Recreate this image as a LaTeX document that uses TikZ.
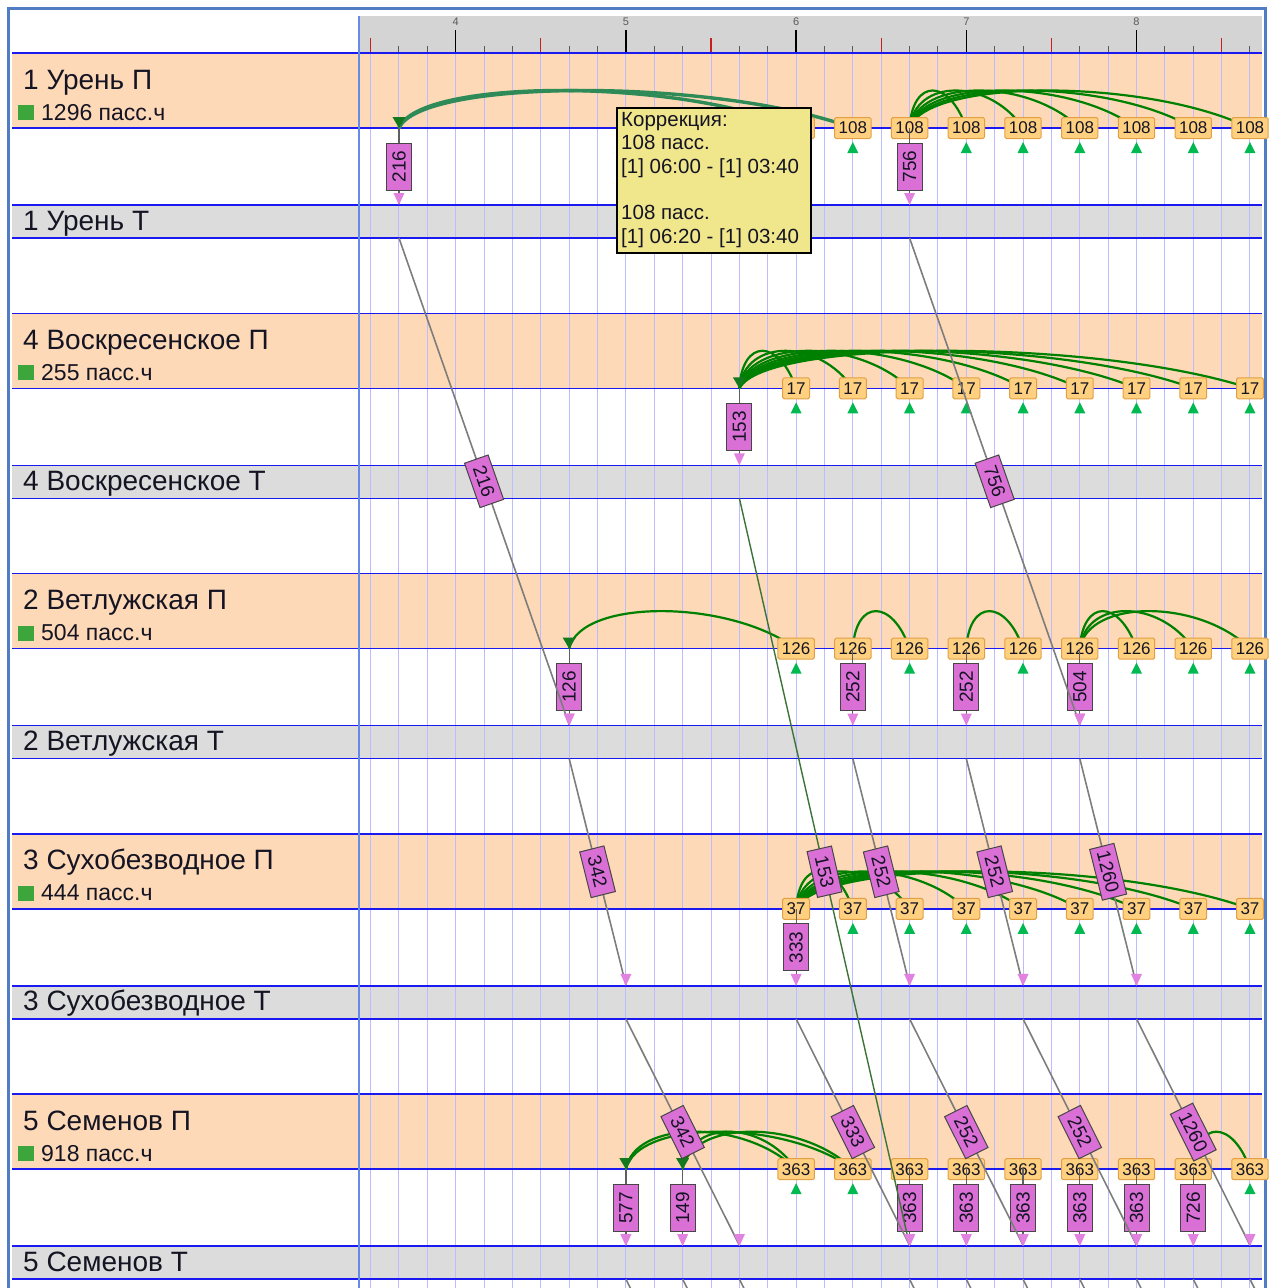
\documentclass[tikz,border=0pt]{standalone}
\usepackage{fontspec}
\setmainfont{Liberation Sans}
\definecolor{peach}{RGB}{253,217,183}
\definecolor{bandgray}{RGB}{220,220,220}
\definecolor{rulergray}{RGB}{212,212,212}
\definecolor{gridc}{RGB}{188,188,255}
\definecolor{rowblue}{RGB}{25,25,240}
\definecolor{frameblue}{RGB}{80,125,195}
\definecolor{sepblue}{RGB}{100,140,230}
\definecolor{obfill}{RGB}{255,208,128}
\definecolor{obdraw}{RGB}{225,160,70}
\definecolor{orchidf}{RGB}{218,112,214}
\definecolor{parrow}{RGB}{225,130,225}
\definecolor{pdraw}{RGB}{70,70,70}
\definecolor{arcgreen}{RGB}{0,128,0}
\definecolor{selgreen}{RGB}{46,139,87}
\definecolor{landgreen}{RGB}{20,120,30}
\definecolor{trigreen}{RGB}{0,185,80}
\definecolor{sqgreen}{RGB}{60,165,60}
\definecolor{diaggray}{RGB}{125,125,125}
\definecolor{diaggreen}{RGB}{60,115,55}
\definecolor{dropgray}{RGB}{95,95,95}
\definecolor{tipfill}{RGB}{240,230,140}
\definecolor{txt}{RGB}{20,20,35}
\definecolor{tickred}{RGB}{200,30,30}
\definecolor{tickgray}{RGB}{90,90,90}
\newcommand\kx[1]{(370.6+28.367*(#1))}
\newcommand\garc[4]{%
  \pgfmathsetmacro\dd{(#3-#4)*28.367}%
  \draw[#1] (p#2-#3) .. controls +({-0.3*\dd},-50) and +({0.05*\dd},-50) .. (p#2-#4);}
\newcommand\landarr[1]{\fill[landgreen] (#1) ++(-6.5,-11) -- (#1) -- ++(6.5,-11) -- cycle;}
\newcommand\ptri[2]{\fill[parrow] ({#1-5.5},{#2-12}) -- ({#1},{#2}) -- ({#1+5.5},{#2-12}) -- cycle;}
\newcommand\gup[2]{\fill[trigreen] ({\kx{#1}-5.5},{#2+25}) -- ({\kx{#1}},{#2+14}) -- ({\kx{#1}+5.5},{#2+25}) -- cycle;}
\newcommand\pvb[4]{% station, slot, Ttop, text
  \draw[dropline] (p#1-#2) -- ({\kx{#2}},{#3-1}) coordinate (e#1-#2);
  \node[pbox,rotate=90] (v#1-#2) at ({\kx{#2}},{#3-38.5}) {#4};
  \ptri{\kx{#2}}{#3}}
\newcommand\diag[7]{% name, style, k1, y1, k2, y2, label
  \coordinate (g#1a) at ({\kx{#3}},#4);
  \coordinate (g#1b) at ({\kx{#5}},{#6-1});
  \draw[#2] (g#1a) -- node[dlabel,sloped] (gl#1) {#7} (g#1b);
  \ptri{\kx{#5}}{#6}}
\begin{document}
\begin{tikzpicture}[x=1pt,y=-1pt,
  obox/.style={rectangle,fill=obfill,draw=obdraw,line width=1pt,rounded corners=1.5pt,minimum height=21pt,inner xsep=4pt,inner ysep=0pt,font=\fontsize{17}{17}\selectfont,text=txt},
  pbox/.style={rectangle,fill=orchidf,draw=pdraw,line width=1pt,minimum width=47pt,minimum height=25pt,inner sep=2pt,font=\fontsize{19}{19}\selectfont,text=txt},
  dlabel/.style={pbox,minimum width=47pt,minimum height=25pt,inner xsep=5pt},
  arcline/.style={draw=arcgreen,line width=2.2pt},
  selarc/.style={draw=selgreen,line width=3.4pt},
  dropline/.style={draw=dropgray,line width=1.2pt},
  diagline/.style={draw=diaggray,line width=1.6pt},
  diaggr/.style={draw=diaggreen,line width=1.4pt},
  rowline/.style={draw=rowblue,line width=1.6pt},
  gridl/.style={draw=gridc,line width=1pt},
  stitle/.style={anchor=base west,inner sep=0pt,font=\fontsize{28}{28}\selectfont,text=txt},
  ssub/.style={anchor=base west,inner sep=0pt,font=\fontsize{23}{23}\selectfont,text=txt},
  tiptext/.style={anchor=base west,inner sep=0pt,font=\fontsize{20.5}{20.5}\selectfont,text=txt},
]
\useasboundingbox (0,0) rectangle (1277,1288);
\clip (0,0) rectangle (1277,1288);
\fill[white] (0,0) rectangle (1277,1288);
% bands
\foreach \t in {53,313.3,573.6,833.9,1094.2} {
  \fill[peach] (12,\t) rectangle (1262,{\t+75});
  \fill[bandgray] (12,{\t+152}) rectangle (1262,{\t+185});
}
\fill[rulergray] (360,16) rectangle (1262,52);
% grid
\foreach \k in {0,...,31} \draw[gridl] ({\kx{\k}},53) -- ({\kx{\k}},1288);
% ruler ticks
\foreach \k in {0,...,31} \draw[tickgray,line width=1pt] ({\kx{\k}},46) -- ({\kx{\k}},52);
\foreach \k in {0,6,...,30} \draw[tickred,line width=1.3pt] ({\kx{\k}},38) -- ({\kx{\k}},52);
\foreach \k/\h in {3/4,9/5,15/6,21/7,27/8} {
  \draw[black,line width=1.5pt] ({\kx{\k}},30) -- ({\kx{\k}},52);
  \node[font=\fontsize{11}{11}\selectfont,text=tickgray,inner sep=0pt] (hr\h) at ({\kx{\k}},22) {\h};
}
% row lines
\foreach \t in {53,313.3,573.6,833.9,1094.2} {
  \draw[rowline] (12,\t) -- (1262,\t);
  \draw[rowline] (12,{\t+75}) -- (1262,{\t+75});
  \draw[rowline] (12,{\t+152}) -- (1262,{\t+152});
  \draw[rowline] (12,{\t+185}) -- (1262,{\t+185});
}
\draw[sepblue,line width=1.5pt] (359,16) -- (359,1288);
\draw[frameblue,line width=3pt] (8.5,1300) -- (8.5,8.5) -- (1265.5,8.5) -- (1265.5,1300);
% labels
\foreach \t/\a/\b/\c/\n in {53/1 Урень П/1296 пасс.ч/1 Урень Т/0,
  313.3/4 Воскресенское П/255 пасс.ч/4 Воскресенское Т/1,
  573.6/2 Ветлужская П/504 пасс.ч/2 Ветлужская Т/2,
  833.9/3 Сухобезводное П/444 пасс.ч/3 Сухобезводное Т/3,
  1094.2/5 Семенов П/918 пасс.ч/5 Семенов Т/4} {
  \node[stitle] (lp\n) at (23,{\t+36}) {\a};
  \fill[sqgreen] (18,{\t+52}) rectangle (34,{\t+67});
  \node[ssub] (ls\n) at (41,{\t+67}) {\b};
  \node[stitle] (lt\n) at (23,{\t+177}) {\c};
}
% coordinates on the boarding lines
\foreach \s/\L in {0/128,1/388.3,2/648.6,3/908.9,4/1169.2} {
  \foreach \k in {1,7,9,11,13,15,17,...,31} \coordinate (p\s-\k) at ({\kx{\k}},\L);
}
% arcs
\garc{selarc}{0}{15}{1}
\garc{selarc}{0}{17}{1}
\foreach \s in {21,23,...,31} {\garc{arcline}{0}{\s}{19}}
\landarr{p0-1}
\foreach \s in {15,17,...,31} {\garc{arcline}{1}{\s}{13}}
\landarr{p1-13}
\garc{arcline}{2}{15}{7}
\garc{arcline}{2}{19}{17}
\garc{arcline}{2}{23}{21}
\foreach \s in {27,29,31} {\garc{arcline}{2}{\s}{25}}
\landarr{p2-7}
\foreach \s in {17,19,...,31} {\garc{arcline}{3}{\s}{15}}
\garc{arcline}{4}{15}{9}
\garc{arcline}{4}{15}{11}
\garc{arcline}{4}{17}{9}
\garc{arcline}{4}{17}{11}
\garc{arcline}{4}{31}{29}
\landarr{p4-9}
\landarr{p4-11}
% orange boxes
\foreach \k in {15,17,...,31} {
  \node[obox] (o0-\k) at (p0-\k) {108};
  \node[obox] (o1-\k) at (p1-\k) {17};
  \node[obox] (o2-\k) at (p2-\k) {126};
  \node[obox] (o3-\k) at (p3-\k) {37};
  \node[obox] (o4-\k) at (p4-\k) {363};
}
% green triangles
\foreach \k in {15,17,21,23,25,27,29,31} {\gup{\k}{128}}
\foreach \k in {15,17,...,31} {\gup{\k}{388.3}}
\foreach \k in {15,19,23,27,29,31} {\gup{\k}{648.6}}
\foreach \k in {17,19,...,31} {\gup{\k}{908.9}}
\foreach \k in {15,17,31} {\gup{\k}{1169.2}}
% purple boxes
\pvb{0}{1}{205}{216}
\pvb{0}{19}{205}{756}
\pvb{1}{13}{465.3}{153}
\pvb{2}{7}{725.6}{126}
\pvb{2}{17}{725.6}{252}
\pvb{2}{21}{725.6}{252}
\pvb{2}{25}{725.6}{504}
\pvb{3}{15}{985.9}{333}
\pvb{4}{9}{1246.2}{577}
\pvb{4}{11}{1246.2}{149}
\pvb{4}{19}{1246.2}{363}
\pvb{4}{21}{1246.2}{363}
\pvb{4}{23}{1246.2}{363}
\pvb{4}{25}{1246.2}{363}
\pvb{4}{27}{1246.2}{363}
\pvb{4}{29}{1246.2}{726}
% diagonals
\diag{1}{diagline}{1}{238}{7}{725.6}{216}
\diag{2}{diagline}{19}{238}{25}{725.6}{756}
\diag{3}{diaggr}{13}{498.3}{19}{1246.2}{153}
\diag{4}{diagline}{7}{758.6}{9}{985.9}{342}
\diag{5}{diagline}{17}{758.6}{19}{985.9}{252}
\diag{6}{diagline}{21}{758.6}{23}{985.9}{252}
\diag{7}{diagline}{25}{758.6}{27}{985.9}{1260}
\diag{8}{diagline}{9}{1018.9}{13}{1246.2}{342}
\diag{9}{diagline}{15}{1018.9}{19}{1246.2}{333}
\diag{10}{diagline}{19}{1018.9}{23}{1246.2}{252}
\diag{11}{diagline}{23}{1018.9}{27}{1246.2}{252}
\diag{12}{diagline}{27}{1018.9}{31}{1246.2}{1260}
\foreach \k in {9,11,13,19,21,23,25,27,29,31} \draw[diagline] ({\kx{\k}},1279.2) -- ++(10,20);
% tooltip
\node[draw=black,line width=1.5pt,fill=tipfill,minimum width=194pt,minimum height=145pt,anchor=north west,inner sep=0pt] (tooltip) at (616,107) {};
\node[tiptext] (tt1) at (621,126) {Коррекция:};
\node[tiptext] (tt2) at (621,149) {108 пасс.};
\node[tiptext] (tt3) at (621,173) {[1] 06:00 - [1] 03:40};
\node[tiptext] (tt4) at (621,219) {108 пасс.};
\node[tiptext] (tt5) at (621,243) {[1] 06:20 - [1] 03:40};
\end{tikzpicture}
\end{document}
